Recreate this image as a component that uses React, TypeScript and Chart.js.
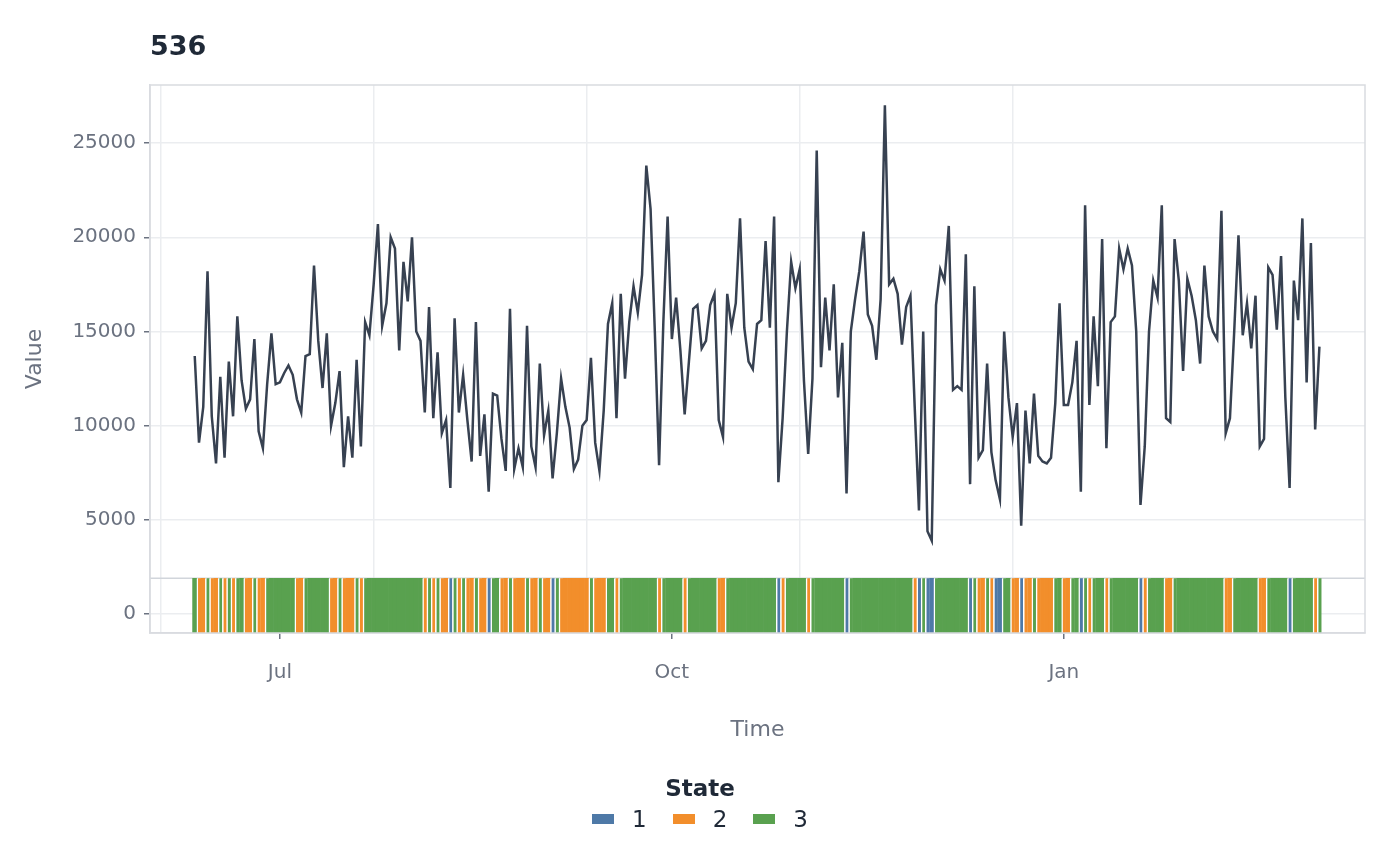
import React, { useEffect, useRef } from "react";
import { Chart, registerables } from "chart.js";
Chart.register(...registerables);

const START_DAY = -20; // days relative to Jul 1
const values = [13700,9100,11000,18200,10500,8000,12600,8300,13400,10500,15800,12400,10900,11400,14600,9700,8800,12200,14900,12200,12300,12800,13200,12700,11400,10700,13700,13800,18500,14500,12000,14900,10000,11200,12900,7800,10500,8300,13500,8900,15500,14800,17500,20700,15300,16500,20000,19400,14000,18700,16600,20000,15000,14500,10700,16300,10400,13900,9600,10300,6700,15700,10700,12700,10300,8100,15500,8400,10600,6500,11700,11600,9300,7600,16200,7700,8800,7800,15300,8900,7800,13300,9500,10800,7200,9600,12500,11000,9900,7700,8200,10000,10300,13600,9100,7600,10800,15400,16500,10400,17000,12500,15500,17400,16000,18000,23800,21500,15000,7900,15500,21100,14600,16800,14000,10600,13400,16200,16400,14100,14500,16400,17000,10300,9400,17000,15200,16500,21000,15200,13400,13000,15400,15600,19800,15200,21100,7000,10400,15000,18700,17300,18300,12400,8500,12500,24600,13100,16800,14000,17500,11500,14400,6400,15000,16700,18200,20300,15900,15300,13500,16700,27000,17500,17800,17000,14300,16300,16900,11000,5500,15000,4400,3900,16400,18300,17700,20600,11900,12100,11900,19100,6900,17400,8300,8700,13300,8600,7100,6100,15000,11500,9400,11200,4700,10800,8000,11700,8400,8100,8000,8300,11200,16500,11100,11100,12300,14500,6500,21700,11100,15800,12100,19900,8800,15500,15800,19400,18300,19400,18500,15000,5800,8900,15000,17700,16800,21700,10400,10200,19900,17700,12900,17800,16900,15600,13300,18500,15800,15000,14600,21400,9600,10400,15000,20100,14800,16500,14100,16900,8900,9300,18400,18000,15100,19000,11500,6700,17700,15600,21000,12300,19700,9800,14200];

// runs of [state, days]
const stateRuns: [number, number][] = [
[3,1],[2,2],[3,1],[2,2],[3,1],[2,1],[3,1],[2,1],[3,2],[2,2],[3,1],[2,2],[3,7],[2,2],[3,6],[2,2],[3,1],[2,3],[3,1],[2,1],[3,14],[2,1],[3,1],[2,1],[3,1],[2,2],[1,1],[3,1],[2,1],[3,1],[2,2],[3,1],[2,2],[1,1],[3,2],[2,2],[3,1],[2,3],[3,1],[2,2],[3,1],[2,2],[1,1],[3,1],[2,7],
[3,1],[2,3],[3,2],[2,1],[3,9],[2,1],[3,5],[2,1],[3,7],[2,2],[3,12],[1,1],[2,1],[3,5],[2,1],[3,8],[1,1],[3,15],[2,1],[1,1],[3,1],[1,2],
[3,8],[1,1],[3,1],[2,2],[3,1],[2,1],[1,2],[3,2],[2,2],[1,1],[2,2],[3,1],[2,4],[3,2],[2,2],[3,2],[1,1],[3,1],[2,1],[3,3],[2,1],[3,7],[1,1],[2,1],[3,4],[2,2],[3,12],[2,2],[3,6],[2,2],[3,5],[1,1],[3,5],[2,1],[3,1]];

const stateColors: Record<number, string> = { 1: "#4e79a7", 2: "#f28e2b", 3: "#59a14f" };
const stateLabels = ["1", "2", "3"];
const xLabelTicks = [0, 92, 184];
const xLabelText = ["Jul", "Oct", "Jan"];
const xGridTicks = [-28, 22, 72, 122, 172];
const yTicks = [0, 5000, 10000, 15000, 20000, 25000];
const BAR_LOW = -1000;
const BAR_HIGH = 1900;

export default function App() {
  const ref = useRef<HTMLCanvasElement>(null);
  useEffect(() => {
    const states: number[] = [];
    stateRuns.forEach(([s, n]) => { for (let i = 0; i < n; i++) states.push(s); });
    const linePts = values.map((v, i) => ({ x: START_DAY + i, y: v }));
    const barPts = states.map((s, i) => ({ x: START_DAY + i, y: [BAR_LOW, BAR_HIGH] as any }));
    const hline = {
      id: "hline",
      beforeDatasetsDraw(c: any) {
        const y = c.scales.y.getPixelForValue(BAR_HIGH);
        const ctx = c.ctx;
        ctx.save();
        ctx.strokeStyle = "#d1d5db";
        ctx.lineWidth = 1.5;
        ctx.beginPath();
        ctx.moveTo(c.chartArea.left, y);
        ctx.lineTo(c.chartArea.right, y);
        ctx.stroke();
        ctx.restore();
      },
    };
    const font = { family: "'DejaVu Sans', sans-serif", size: 20 };
    const chart = new Chart(ref.current!, {
      type: "bar",
      data: {
        datasets: [
          {
            type: "line",
            data: linePts,
            borderColor: "#374151",
            borderWidth: 2.5,
            pointRadius: 0,
            order: 0,
          } as any,
          {
            type: "bar",
            data: barPts,
            backgroundColor: states.map((s) => stateColors[s]),
            borderColor: "#ffffff",
            borderWidth: states.map((s, i) => ({ left: i > 0 && states[i - 1] !== s ? 1.5 : 0, right: 0, top: 0, bottom: 0 })),
            borderSkipped: false,
            barPercentage: 1,
            categoryPercentage: 1,
            order: 1,
          } as any,
        ],
      },
      options: {
        animation: false,
        responsive: false,
        layout: { padding: { top: 85, right: 35, bottom: 119, left: 18 } },
        plugins: { legend: { display: false }, tooltip: { enabled: false } },
        scales: {
          x: {
            type: "linear",
            offset: false,
            min: -30.5,
            max: 254.7,
            afterBuildTicks: (s: any) => {
              s.ticks = [...xGridTicks, ...xLabelTicks].sort((a, b) => a - b).map((v) => ({ value: v }));
            },
            afterFit: (s: any) => { s.height = 114; },
            ticks: {
              autoSkip: false,
              maxRotation: 0,
              color: "#6b7280",
              font,
              padding: 22,
              callback: (v: any) => { const i = xLabelTicks.indexOf(v); return i >= 0 ? xLabelText[i] : ""; },
            },
            grid: {
              offset: false,
              color: (c: any) => (xLabelTicks.includes(c.tick?.value) ? "rgba(0,0,0,0)" : "#ebedf0"),
              tickColor: (c: any) => (xLabelTicks.includes(c.tick?.value) ? "#6b7280" : "rgba(0,0,0,0)"),
              tickLength: 6,
              lineWidth: 1.5,
            },
            border: { color: "#d9dbe0", width: 1.5 },
            title: { display: true, text: "Time", color: "#6b7280", font: { ...font, size: 22 }, padding: { top: 22 } },
          },
          y: {
            min: -1000,
            max: 28080,
            afterBuildTicks: (s: any) => { s.ticks = yTicks.map((v) => ({ value: v })); },
            afterFit: (s: any) => { s.width = 132; },
            ticks: { color: "#6b7280", font, padding: 8, callback: (v: any) => String(v) },
            grid: { color: "#ebedf0", lineWidth: 1.5, tickColor: "#6b7280", tickLength: 6 },
            border: { color: "#d9dbe0", width: 1.5 },
            title: { display: true, text: "Value", color: "#6b7280", font: { ...font, size: 22 } },
          },
        },
      },
      plugins: [hline, {
        id: "frame",
        afterDraw(c: any) {
          const a = c.chartArea, ctx = c.ctx;
          ctx.save(); ctx.strokeStyle = "#d9dbe0"; ctx.lineWidth = 1.5;
          ctx.strokeRect(a.left, a.top, a.right - a.left, a.bottom - a.top); ctx.restore();
        },
      }],
    });
    return () => chart.destroy();
  }, []);
  return (
    <div style={{ position: "fixed", inset: 0, width: 1400, height: 866, background: "#fff", fontFamily: "'DejaVu Sans', sans-serif" }}>
      <canvas ref={ref} width={1400} height={866} style={{ position: "absolute", left: 0, top: 0 }} />
      <div style={{ position: "absolute", left: 150, top: 30, fontSize: 27, fontWeight: "bold", color: "#1f2937" }}>536</div>
      <div style={{ position: "absolute", left: 0, width: 1400, top: 775, textAlign: "center", fontSize: 23, fontWeight: "bold", color: "#1f2937" }}>State</div>
      <div style={{ position: "absolute", left: 0, width: 1400, top: 806, display: "flex", justifyContent: "center", gap: 26, fontSize: 23, color: "#1f2937" }}>
        {stateLabels.map((l, i) => (
          <div key={l} style={{ display: "flex", alignItems: "center", gap: 18 }}>
            <div style={{ width: 22, height: 10, background: stateColors[i + 1] }} />
            <span>{l}</span>
          </div>
        ))}
      </div>
    </div>
  );
}
